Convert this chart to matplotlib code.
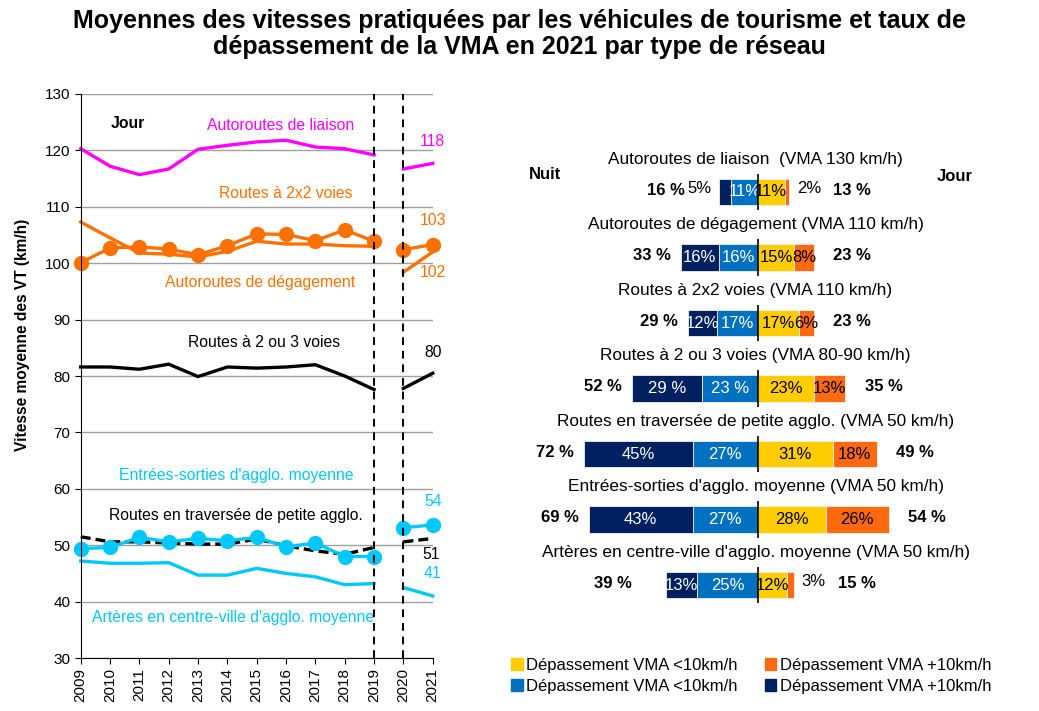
import matplotlib.pyplot as plt
import numpy as np
from matplotlib.patches import Patch

plt.rcParams["font.family"] = ["Liberation Sans", "DejaVu Sans"]

# ---- left chart data: mean speeds (km/h), 2009-2021 ----
years = list(range(2009, 2022))
liaison = [120.3, 117.2, 115.7, 116.7, 120.2, 120.9, 121.5, 121.8, 120.6, 120.3, 119.2, 116.7, 117.7]
voies_2x2 = [100.1, 102.7, 102.9, 102.5, 101.5, 103.1, 105.2, 105.1, 104.0, 105.9, 103.9, 102.4, 103.3]
degagement = [107.3, 104.5, 101.8, 101.6, 101.1, 102.1, 103.9, 103.4, 103.4, 103.1, 103.0, 98.4, 102.0]
voies_2ou3 = [81.6, 81.6, 81.2, 82.1, 79.9, 81.6, 81.4, 81.6, 82.0, 80.0, 77.6, 77.8, 80.5]
traversee = [51.5, 50.6, 50.6, 50.4, 50.2, 50.2, 51.1, 49.9, 49.0, 48.4, 49.6, 50.6, 51.2]
entrees = [49.4, 49.6, 51.4, 50.6, 51.2, 50.8, 51.4, 49.7, 50.4, 48.0, 48.0, 53.1, 53.6]
arteres = [47.2, 46.8, 46.8, 46.9, 44.7, 44.7, 45.9, 45.0, 44.4, 43.0, 43.2, 42.5, 41.0]

# ---- right chart data: share of vehicles above the limit (%) ----
reseaux = ["Autoroutes de liaison  (VMA 130 km/h)",
           "Autoroutes de dégagement (VMA 110 km/h)",
           "Routes à 2x2 voies (VMA 110 km/h)",
           "Routes à 2 ou 3 voies (VMA 80-90 km/h)",
           "Routes en traversée de petite agglo. (VMA 50 km/h)",
           "Entrées-sorties d'agglo. moyenne (VMA 50 km/h)",
           "Artères en centre-ville d'agglo. moyenne (VMA 50 km/h)"]
nuit_plus10 = [5, 16, 12, 29, 45, 43, 13]
nuit_moins10 = [11, 16, 17, 23, 27, 27, 25]
jour_moins10 = [11, 15, 17, 23, 31, 28, 12]
jour_plus10 = [2, 8, 6, 13, 18, 26, 3]
nuit_total = [16, 33, 29, 52, 72, 69, 39]
jour_total = [13, 23, 23, 35, 49, 54, 15]

MAGENTA = "#FF00FF"
ORANGE = "#FF7000"
CYAN = "#00C8FA"
NAVY = "#002060"
BLUE = "#0070C0"
YELLOW = "#FFCC00"
BAR_ORANGE = "#FF6A10"

fig = plt.figure(figsize=(10.39, 7.11), dpi=100)

fig.text(0.5, 0.988,
         "Moyennes des vitesses pratiquées par les véhicules de tourisme et taux de\n"
         "dépassement de la VMA en 2021 par type de réseau",
         ha="center", va="top", fontsize=18, fontweight="bold", linespacing=1.12)

# ---------------- left: speed curves ----------------
ax = fig.add_axes([0.0777, 0.0745, 0.3388, 0.7933])
yrs = np.array(years)
pre = yrs <= 2019
post = yrs >= 2020


def seg(vals, **kw):
    v = np.array(vals)
    ax.plot(yrs[pre], v[pre], clip_on=False, **kw)
    ax.plot(yrs[post], v[post], clip_on=False, **kw)


seg(liaison, color=MAGENTA, lw=2.4)
seg(degagement, color=ORANGE, lw=2.4)
seg(voies_2x2, color=ORANGE, lw=2.4, marker="o", ms=10)
seg(voies_2ou3, color="black", lw=2.4)
seg(traversee, color="black", lw=2.4, ls=(0, (3, 1.5)))
seg(entrees, color=CYAN, lw=2.4, marker="o", ms=10)
seg(arteres, color=CYAN, lw=2.4)

for x in (2019, 2020):
    ax.axvline(x, color="black", lw=1.4, ls=(0, (4, 3)), zorder=5)

ax.set_xlim(2009, 2021)
ax.set_ylim(30, 130)
ax.set_yticks(range(30, 131, 10))
ax.set_xticks(years)
ax.set_xticklabels([str(y) for y in years], rotation=90)
ax.tick_params(axis="both", labelsize=11, length=4, direction="out")
ax.grid(axis="y", color="#A0A0A0", lw=1)
ax.set_axisbelow(True)
for s in ("top", "right"):
    ax.spines[s].set_visible(False)

fig.text(0.022, 1 - 335 / 711, "Vitesse moyenne des VT (km/h)", rotation=90,
         ha="center", va="center", fontsize=11.2, fontweight="bold")

lab = dict(fontsize=11.3, ha="center", va="center")
ax.text(2010.6, 124.7, "Jour", fontweight="bold", color="black", **lab)
ax.text(2015.8, 124.5, "Autoroutes de liaison", color=MAGENTA, **lab)
ax.text(2016.0, 112.4, "Routes à 2x2 voies", color=ORANGE, **lab)
ax.text(2015.1, 96.5, "Autoroutes de dégagement", color=ORANGE, **lab)
ax.text(2015.25, 85.9, "Routes à 2 ou 3 voies", color="black", **lab)
ax.text(2014.3, 62.3, "Entrées-sorties d'agglo. moyenne", color=CYAN, **lab)
ax.text(2014.3, 55.2, "Routes en traversée de petite agglo.", color="black", **lab)
ax.text(2014.2, 37.1, "Artères en centre-ville d'agglo. moyenne", color=CYAN, **lab)
ax.text(2021.0, 121.5, f"{liaison[-1]:.0f}", color=MAGENTA, **lab)
ax.text(2021.0, 107.5, f"{voies_2x2[-1]:.0f}", color=ORANGE, **lab)
ax.text(2021.0, 98.4, f"{degagement[-1]:.0f}", color=ORANGE, **lab)
ax.text(2021.0, 84.2, f"{voies_2ou3[-1]:.0f}", color="black", **lab)
ax.text(2021.0, 57.7, f"{entrees[-1]:.0f}", color=CYAN, **lab)
ax.text(2020.93, 48.3, f"{traversee[-1]:.0f}", color="black", **lab)
ax.text(2021.0, 44.9, f"{arteres[-1]:.0f}", color=CYAN, **lab)

# ---------------- right: diverging bars ----------------
bx = fig.add_axes([500 / 1039, 1 - 620 / 711, 530 / 1039, 500 / 711])
bx.set_xlim(-106.6, 112.4)
bx.set_ylim(6.534, -1.099)
bx.axis("off")

rows = np.arange(len(reseaux))
h = 0.41
n1 = np.array(nuit_plus10)
n2 = np.array(nuit_moins10)
j1 = np.array(jour_moins10)
j2 = np.array(jour_plus10)
ec = dict(edgecolor="#F0F0F0", linewidth=0.6)
bx.barh(rows, -n2, height=h, color=BLUE, **ec)
bx.barh(rows, -n1, left=-n2, height=h, color=NAVY, **ec)
bx.barh(rows, j1, height=h, color=YELLOW, **ec)
bx.barh(rows, j2, left=j1, height=h, color=BAR_ORANGE, **ec)

fs = 12
for i in rows:
    bx.vlines(0, i - 0.28, i + 0.28, color="black", lw=1.2, zorder=4)
    bx.text(-1, i - 0.5, reseaux[i], ha="center", va="center", fontsize=12.4)
    sp = " " if i == 3 else ""
    # night side
    bx.text(-n2[i] / 2, i, f"{n2[i]}{sp}%", ha="center", va="center",
            color="white", fontsize=fs)
    if n1[i] <= 5:
        bx.text(-n2[i] - n1[i] - 3, i - 0.05, f"{n1[i]}%", ha="right",
                va="center", fontsize=fs)
    else:
        bx.text(-n2[i] - n1[i] / 2, i, f"{n1[i]}{sp}%", ha="center",
                va="center", color="white", fontsize=fs)
    # day side
    bx.text(j1[i] / 2, i, f"{j1[i]}%", ha="center", va="center", fontsize=fs)
    if j2[i] <= 5:
        bx.text(j1[i] + j2[i] + 3, i - 0.05, f"{j2[i]}%", ha="left",
                va="center", fontsize=fs)
    else:
        bx.text(j1[i] + j2[i] / 2, i, f"{j2[i]}%", ha="center", va="center",
                fontsize=fs)
    # totals
    extra = 10 if (n1[i] <= 5 or j2[i] <= 5) else 0
    bx.text(-(n1[i] + n2[i]) - 12 - extra, i - 0.03, f"{nuit_total[i]} %",
            ha="center", va="center", fontsize=fs, fontweight="bold")
    bx.text(j1[i] + j2[i] + 16 + extra, i - 0.03, f"{jour_total[i]} %",
            ha="center", va="center", fontsize=fs, fontweight="bold")

bx.text(-88, -0.26, "Nuit", ha="center", va="center", fontsize=12, fontweight="bold")
bx.text(81.4, -0.23, "Jour", ha="center", va="center", fontsize=12, fontweight="bold")

# legend
handles = [Patch(color=YELLOW), Patch(color=BLUE), Patch(color=BAR_ORANGE), Patch(color=NAVY)]
labels = ["Dépassement VMA <10km/h", "Dépassement VMA <10km/h",
          "Dépassement VMA +10km/h", "Dépassement VMA +10km/h"]
fig.legend(handles, labels, ncol=2, loc="center", bbox_to_anchor=(0.723, 1 - 676 / 711),
           frameon=False, fontsize=12, handlelength=0.7, handleheight=0.7,
           handletextpad=0.2, columnspacing=1.6, labelspacing=0.35)

fig.savefig("out.png", dpi=100)
